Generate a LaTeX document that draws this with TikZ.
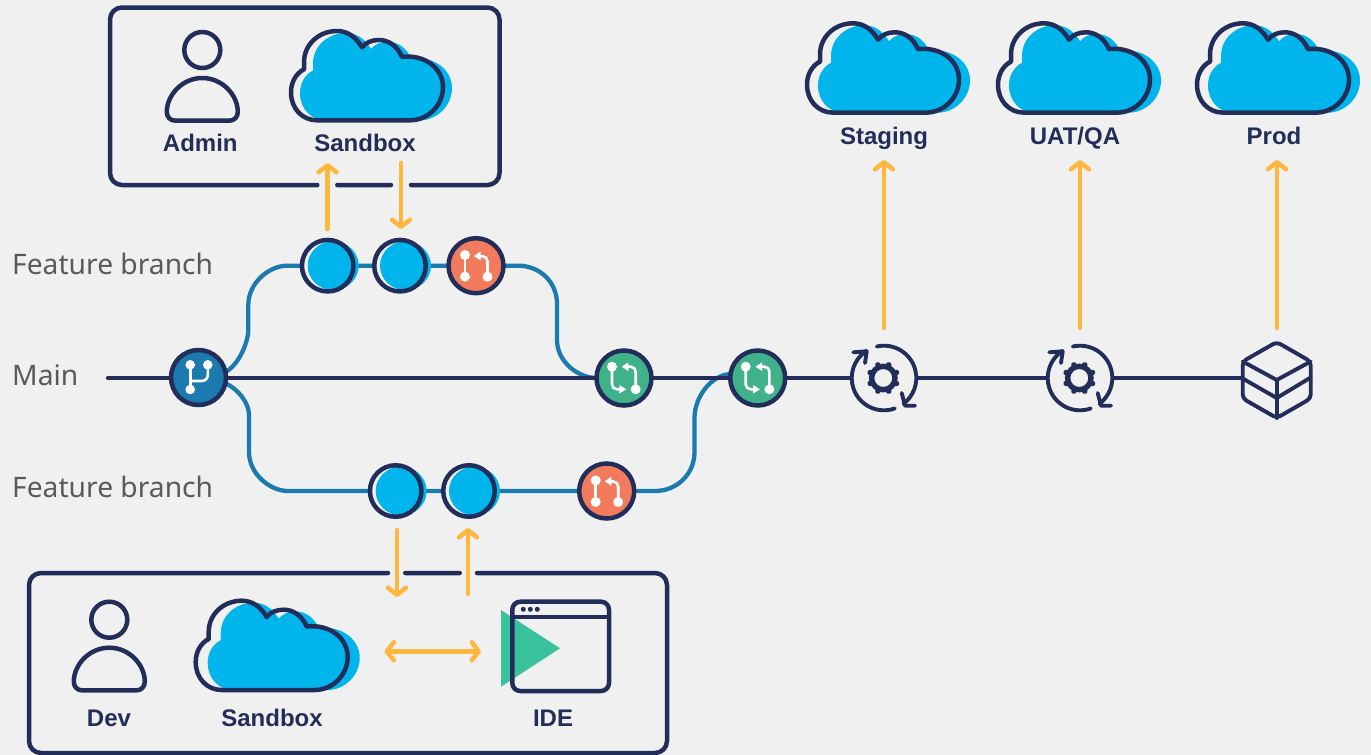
\documentclass[tikz,border=0pt]{standalone}
\usepackage{fontspec}
\setmainfont{Noto Sans}
\newfontfamily\boldlabel{Liberation Sans}[BoldFont={Liberation Sans Bold}]
\usetikzlibrary{arrows.meta,calc,backgrounds}
\definecolor{pagebg}{HTML}{F0F0F0}
\definecolor{navy}{HTML}{232D59}
\definecolor{skyfill}{HTML}{00B5EB}
\definecolor{tealline}{HTML}{1C7BAE}
\definecolor{flowor}{HTML}{FFB740}
\definecolor{mergegreen}{HTML}{3FB28A}
\definecolor{prred}{HTML}{F27B5E}
\definecolor{playgreen}{HTML}{3AC29E}
\definecolor{graytext}{HTML}{5A5A5A}
\tikzset{
  x=1pt,y=-1pt,
  outline/.style={draw=navy,line width=4.5pt,line cap=round,line join=round},
  mainline/.style={draw=navy,line width=4.3pt},
  branchline/.style={draw=tealline,line width=4.3pt},
  flow/.style={draw=flowor,line width=4.5pt,line cap=round,-{Straight Barb[round,length=7pt,width=18pt]}},
  flowboth/.style={draw=flowor,line width=4.5pt,line cap=round,{Straight Barb[round,length=7pt,width=18pt]}-{Straight Barb[round,length=7pt,width=18pt]}},
  roundnode/.style={circle,draw=navy,line width=4.5pt,minimum size=55pt,inner sep=0pt,outer sep=0pt},
  commitring/.style={circle,draw=navy,line width=4.5pt,minimum size=51.5pt,inner sep=0pt,outer sep=0pt},
  forknode/.style={roundnode,fill=tealline},
  prnode/.style={roundnode,fill=prred},
  mergenode/.style={roundnode,fill=mergegreen},
  iconhit/.style={circle,fill=pagebg,minimum size=65pt,inner sep=0pt,outer sep=0pt},
  boldtext/.style={text=navy,font=\boldlabel\bfseries\fontsize{24}{28}\selectfont,inner sep=0pt,anchor=base},
  sidetext/.style={text=graytext,font=\fontsize{28.2}{32}\selectfont,inner sep=0pt,anchor=base west},
  glyphline/.style={draw=white,line width=2.6pt,rounded corners=5pt},
  iconline/.style={draw=navy,line width=3.9pt,line cap=round,line join=round},
}
\newcommand{\cloudshape}{(27,91) -- (120,91) .. controls (138,91) and (153,76) .. (153,58)
  .. controls (153,39) and (135,25) .. (112,27.5)
  .. controls (107,16) and (98,10.7) .. (89,10.7)
  .. controls (82,10.7) and (76,13) .. (72,18)
  .. controls (66,8) and (58,1.7) .. (47,1.7)
  .. controls (29,1.7) and (14,15) .. (14,33)
  -- (14,40)
  .. controls (6,44) and (1,53) .. (1,63)
  .. controls (1,79) and (12,91) .. (27,91) -- cycle}
% #1,#2 position, #3 sideways shift of the fill
\newcommand{\drawcloud}[3]{%
  \begin{scope}[shift={(#1,#2)}]
    \fill[skyfill,shift={(#3,2)},yscale=0.98] \cloudshape;
    \path[outline] \cloudshape;
  \end{scope}}
\newcommand{\drawperson}[2]{%
  \begin{scope}[shift={(#1,#2)}]
    \path[outline] (0,0) circle[radius=18];
    \path[outline] (-27,70.7) -- (27,70.7) .. controls (32,70.7) and (35.5,67) .. (35.5,62)
      .. controls (35.5,45) and (20,28) .. (0,28)
      .. controls (-20,28) and (-35.5,45) .. (-35.5,62)
      .. controls (-35.5,67) and (-32,70.7) .. (-27,70.7) -- cycle;
  \end{scope}}
\newcommand{\commitnode}[3]{%
  \fill[pagebg] (#2,#3) circle[radius=26];
  \fill[skyfill] ($(#2,#3)+(5.5,0)$) ellipse[x radius=25.5,y radius=24.5];
  \node[commitring] (#1) at (#2,#3) {};}
\newcommand{\prglyph}[1]{%
  \begin{scope}[shift={(#1)}]
    \fill[white] (-11,-10.7) circle[radius=5] (-11,11) circle[radius=5] (11.5,11) circle[radius=5];
    \draw[glyphline] (-11,-10.7) -- (-11,11);
    \draw[glyphline] (11.5,11) -- (11.5,-9.5) -- (2,-9.5);
    \fill[white] (-2,-9.7) -- (4.7,-14.2) -- (4.7,-5.2) -- cycle;
  \end{scope}}
\newcommand{\mergeglyph}[1]{%
  \begin{scope}[shift={(#1)}]
    \fill[white] (-12,-11.3) circle[radius=5] (11.7,11.3) circle[radius=5];
    \draw[glyphline] (-12,-11.3) -- (-12,11.3) -- (-2,11.3);
    \draw[glyphline] (11.7,11.3) -- (11.7,-11.3) -- (1,-11.3);
    \fill[white] (2.2,11.3) -- (-4.7,7) -- (-4.7,15.6) -- cycle;
    \fill[white] (-2.3,-11.3) -- (4.4,-15.6) -- (4.4,-7) -- cycle;
  \end{scope}}
\newcommand{\cycleicon}[1]{%
  \begin{scope}[shift={(#1)}]
    \path[iconline] (-103:32.3) arc[start angle=-103,end angle=53,radius=32.3];
    \path[iconline] (70.5:32.3) arc[start angle=70.5,end angle=237,radius=32.3];
    \path[iconline] (-30.7,-25.7) -- (-17.3,-26.7) -- (-19,-15);
    \path[iconline] (17.7,15) -- (21,27.7) -- (31,27.7);
    \draw[navy,line width=5.4pt] (-0.7,0) circle[radius=11.7];
    \foreach \a in {0,45,...,315}
      \draw[navy,line width=5.6pt,line cap=round] ($(-0.7,0)+(\a+22.5:13.2)$) -- ($(-0.7,0)+(\a+22.5:14.2)$);
  \end{scope}}
\begin{document}
\begin{tikzpicture}
\useasboundingbox (0,0) rectangle (1371,755);

% named nodes
\commitnode{ca}{327.7}{265.7}
\commitnode{cb}{400}{265.7}
\node[prnode] (pra) at (476,265.7) {};
\commitnode{cc}{395.7}{491}
\commitnode{cd}{469}{491}
\node[prnode] (prb) at (606.7,491) {};
\node[forknode] (fork) at (198.5,377.5) {};
\node[mergenode] (mga) at (624,378) {};
\node[mergenode] (mgb) at (757.7,378) {};
\node[iconhit] (cya) at (884,378) {};
\node[iconhit] (cyb) at (1080,378) {};
\coordinate (cube) at (1276.7,380);
\coordinate (cubeleft) at (1243.3,378);
\coordinate (mainstart) at (108,378);
\coordinate (upturnA) at (248.3,330);
\coordinate (upturnB) at (248.3,305);
\coordinate (upturnC) at (287,265.7);
\coordinate (upturnD) at (518,265.7);
\coordinate (upturnE) at (557,304);
\coordinate (upturnF) at (557,340);
\coordinate (loturnA) at (249,415);
\coordinate (loturnB) at (249,452);
\coordinate (loturnC) at (288,491);
\coordinate (loturnD) at (655,491);
\coordinate (loturnE) at (694.5,452);
\coordinate (loturnF) at (694.5,418);

% everything that runs behind the nodes
\begin{scope}[on background layer]
  \fill[pagebg] (0,0) rectangle (1371,755);
  \draw[branchline] (fork.12) .. controls +(13,-6) and +(0,12) .. (upturnA) -- (upturnB)
     .. controls +(0,-22) and +(-18,0) .. (upturnC) -- (upturnD)
     .. controls +(22,0) and +(0,-22) .. (upturnE) -- (upturnF)
     .. controls +(0,22) and +(-18,0) .. (mga.180);
  \draw[branchline] (fork.-12) .. controls +(13,6) and +(0,-12) .. (loturnA) -- (loturnB)
     .. controls +(0,22) and +(-18,0) .. (loturnC) -- (loturnD)
     .. controls +(22,0) and +(0,22) .. (loturnE) -- (loturnF)
     .. controls +(0,-22) and +(-18,0) .. (mgb.172);
  \draw[mainline] (mainstart) -- (mgb.west) (mgb.east) -- (cya.west) (cya.east) -- (cyb.west) (cyb.east) -- (cubeleft);
  \draw[mainline,line cap=round] (mainstart) -- +(1,0);
\end{scope}

% fork glyph
\begin{scope}[shift={(fork)}]
  \fill[white] (-8.3,-12.7) circle[radius=4.8] (9.3,-12.7) circle[radius=4.8] (-8.3,12) circle[radius=4.8];
  \draw[draw=white,line width=2.6pt] (-8.3,-12.7) -- (-8.3,12);
  \draw[glyphline,rounded corners=6pt] (9.3,-12.7) -- (9.3,3.5) -- (-8.3,3.5);
\end{scope}
\prglyph{pra}
\prglyph{prb}
\mergeglyph{mga}
\mergeglyph{mgb}
\cycleicon{cya}
\cycleicon{cyb}

% cube
\begin{scope}[shift={(cube)}]
  \path[iconline,rounded corners=4pt] (0,-38) -- (34,-18.5) -- (34,18.5) -- (0,38) -- (-34,18.5) -- (-34,-18.5) -- cycle;
  \path[iconline] (-34,-18.5) -- (0,0) -- (34,-18.5);
  \path[iconline] (0,0) -- (0,38);
  \path[iconline] (-34,-1.5) -- (0,18) -- (34,-2.5);
\end{scope}

% group boxes
\path[outline,rounded corners=12pt] (411,185) -- (499.5,185) -- (499.5,7.5) -- (110,7.5) -- (110,185) -- (317.3,185)
   (337.3,185) -- (391,185);
\path[outline,rounded corners=12pt] (477,573) -- (667,573) -- (667,753) -- (29,753) -- (29,573) -- (388,573)
   (405.3,573) -- (459.7,573);

% persons and clouds
\drawperson{202.3}{50}
\drawperson{109.3}{619.7}
\drawcloud{290}{29.3}{9}
\drawcloud{194.7}{599}{12}
\drawcloud{806}{21.6}{11}
\drawcloud{997}{21.6}{11}
\drawcloud{1196}{21.6}{11}

% IDE
\fill[playgreen] (501,610) -- (560,648.3) -- (501,686.7) -- cycle;
\path[outline,rounded corners=8pt] (512.3,601.7) rectangle (609,691);
\path[outline,line width=3.9pt,line cap=butt] (512.3,617.3) -- (609,617.3);
\fill[navy] (523.3,609.3) circle[radius=2.5] (530.3,609.3) circle[radius=2.5] (537.3,609.3) circle[radius=2.5];

% flow arrows
\coordinate (fa1) at (327.5,229); \coordinate (fa2) at (327.5,163);
\coordinate (fb1) at (401,163);   \coordinate (fb2) at (401,229);
\coordinate (fc1) at (397,530);   \coordinate (fc2) at (397,597);
\coordinate (fd1) at (468,594);   \coordinate (fd2) at (468,528);
\coordinate (fe1) at (384.5,651.3); \coordinate (fe2) at (481,651.3);
\coordinate (ff1) at (884,328);   \coordinate (ff2) at (884,160);
\coordinate (fg1) at (1080,328);  \coordinate (fg2) at (1080,160);
\coordinate (fh1) at (1277,328);  \coordinate (fh2) at (1277,160);
\draw[flow] (fa1) -- (fa2);
\draw[flow] (fb1) -- (fb2);
\draw[flow] (fc1) -- (fc2);
\draw[flow] (fd1) -- (fd2);
\draw[flowboth] (fe1) -- (fe2);
\draw[flow] (ff1) -- (ff2);
\draw[flow] (fg1) -- (fg2);
\draw[flow] (fh1) -- (fh2);

% labels
\node[boldtext] (tadmin) at (200.3,151.7) {Admin};
\node[boldtext] (tsba) at (365,151.7) {Sandbox};
\node[boldtext] (tdev) at (109,726.7) {Dev};
\node[boldtext] (tsbb) at (272,726.7) {Sandbox};
\node[boldtext] (tide) at (553,726.7) {IDE};
\node[boldtext] (tstag) at (884,144) {Staging};
\node[boldtext] (tuat) at (1075,144) {UAT/QA};
\node[boldtext] (tprod) at (1274,144) {Prod};
\node[sidetext] (tfa) at (12,274) {Feature branch};
\node[sidetext] (tmain) at (12,385) {Main};
\node[sidetext] (tfb) at (12,497) {Feature branch};
\end{tikzpicture}
\end{document}
